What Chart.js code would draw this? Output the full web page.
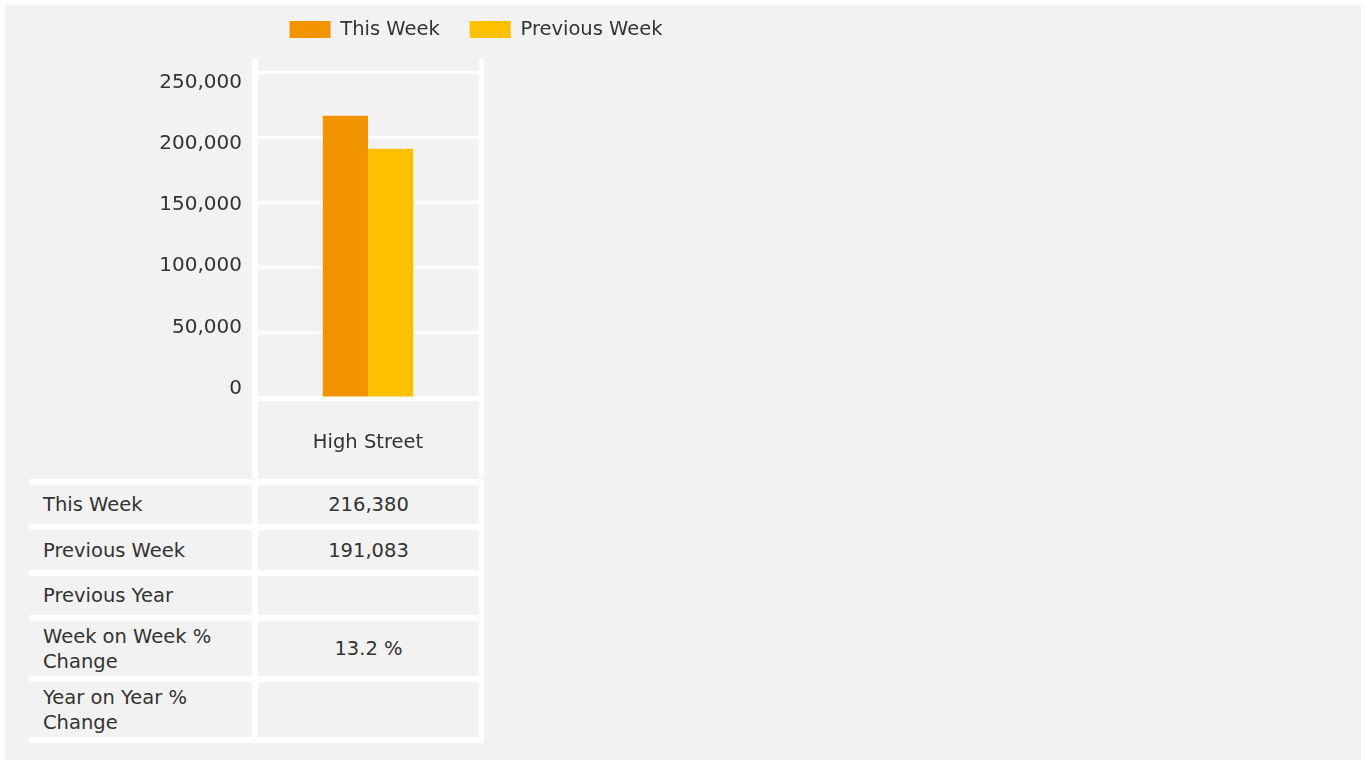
<!DOCTYPE html>
<html>
<head>
<meta charset="utf-8">
<script src="https://cdn.jsdelivr.net/npm/chart.js@4.4.1/dist/chart.umd.min.js"></script>
<style>
  html, body { margin: 0; padding: 0; background: #ffffff; width: 1366px; height: 760px; overflow: hidden;
    font-family: "DejaVu Sans", sans-serif; }
  #panel { position: absolute; left: 5px; top: 5px; width: 1356px; height: 755px; background: #f2f2f2; }
  #hdrBack { position: absolute; left: 252px; top: 396px; width: 232px; height: 82px; background: #ffffff; }
  #hdrCell { position: absolute; left: 258px; top: 401px; width: 221px; height: 77px; background: #f2f2f2; }
  #grid { position: absolute; left: 29px; top: 479px; display: grid;
    grid-template-columns: 223px 221px; grid-template-rows: 39px 40px 39px 55px 55px;
    gap: 6px; padding: 6px 5px 6px 0; background: #ffffff; }
  .cell { box-sizing: border-box; background: #f2f2f2; display: flex; align-items: center;
    color: #333333; font-size: 19.5px; line-height: 25px; }
  .lab { padding-left: 14px; padding-right: 6px; }
  .val { justify-content: center; text-align: center; }
  #chart { position: absolute; left: 5px; top: 5px; }
</style>
</head>
<body>
<div id="panel"></div>
<div id="hdrBack"></div>
<div id="hdrCell"></div>
<div id="grid"></div>
<canvas id="chart" width="700" height="480"></canvas>
<script>
// ---- data ----
const categories = ['High Street'];
const seriesNames = ['This Week', 'Previous Week'];
const thisWeek = [216380];
const previousWeek = [191083];
const previousYear = [null];
const weekOnWeekChange = [13.2];
const yearOnYearChange = [null];
const yTickValues = [0, 50000, 100000, 150000, 200000, 250000];
const tableRowLabels = ['This Week', 'Previous Week', 'Previous Year', 'Week on Week % Change', 'Year on Year % Change'];

// ---- table ----
const fmtNum = v => (v === null || v === undefined) ? '' : v.toLocaleString('en-US');
const fmtPct = v => (v === null || v === undefined) ? '' : v.toFixed(1) + ' %';
const tableRowValues = [
  fmtNum(thisWeek[0]), fmtNum(previousWeek[0]), fmtNum(previousYear[0]),
  fmtPct(weekOnWeekChange[0]), fmtPct(yearOnYearChange[0])
];
const grid = document.getElementById('grid');
tableRowLabels.forEach((lab, i) => {
  const a = document.createElement('div');
  a.className = 'cell lab';
  a.textContent = lab;
  const b = document.createElement('div');
  b.className = 'cell val';
  b.textContent = tableRowValues[i];
  grid.appendChild(a);
  grid.appendChild(b);
});

// ---- chart ----
const FONT = '"DejaVu Sans", sans-serif';
const TEXT = '#333333';

const legendPlacer = {
  id: 'legendPlacer',
  afterLayout(chart) {
    const lg = chart.legend;
    if (!lg) return;
    lg.left = 254.5;
    lg.right = chart.width;
    lg.top = -15.25;
    lg.bottom = 40;
  }
};

const setTicks = scale => { scale.ticks = yTickValues.map(v => ({ value: v })); };

new Chart(document.getElementById('chart'), {
  type: 'bar',
  data: {
    labels: categories,
    datasets: [
      { label: seriesNames[0], data: thisWeek, backgroundColor: '#F29400', borderWidth: 0 },
      { label: seriesNames[1], data: previousWeek, backgroundColor: '#FFC000', borderWidth: 0 }
    ]
  },
  options: {
    responsive: false,
    animation: false,
    events: [],
    layout: { padding: { top: 14, left: 0, right: 224, bottom: 0 } },
    datasets: { bar: { categoryPercentage: 0.4, barPercentage: 1.0 } },
    plugins: {
      tooltip: { enabled: false },
      legend: {
        position: 'top',
        align: 'start',
        maxHeight: 40,
        labels: {
          boxWidth: 41, boxHeight: 17, padding: 30,
          color: TEXT, font: { family: FONT, size: 19.5 }
        }
      }
    },
    scales: {
      x: {
        z: 1,
        offset: true,
        grid: {
          offset: true, drawTicks: false, color: '#ffffff',
          lineWidth: ctx => ctx.index === 0 ? 6 : 5
        },
        border: { display: true, color: '#ffffff', width: 5 },
        ticks: { color: TEXT, font: { family: FONT, size: 19.5 }, padding: 33, maxRotation: 0 },
        afterFit(scale) { scale.height = 87; }
      },
      y: {
        position: 'left',
        weight: 0,
        min: 0,
        max: 260000,
        afterBuildTicks: setTicks,
        grid: { color: '#ffffff', lineWidth: 3, drawTicks: false },
        border: { display: false },
        ticks: { display: false }
      },
      yLabels: {
        position: 'left',
        weight: 1,
        min: -7856,
        max: 269558,
        afterBuildTicks: setTicks,
        grid: { display: false, drawTicks: false },
        border: { display: false },
        ticks: {
          color: TEXT, font: { family: FONT, size: 20 }, padding: 13,
          callback: v => Number(v).toLocaleString('en-US')
        },
        afterFit(scale) { scale.width = 250; }
      }
    }
  },
  plugins: [legendPlacer]
});
</script>
</body>
</html>
